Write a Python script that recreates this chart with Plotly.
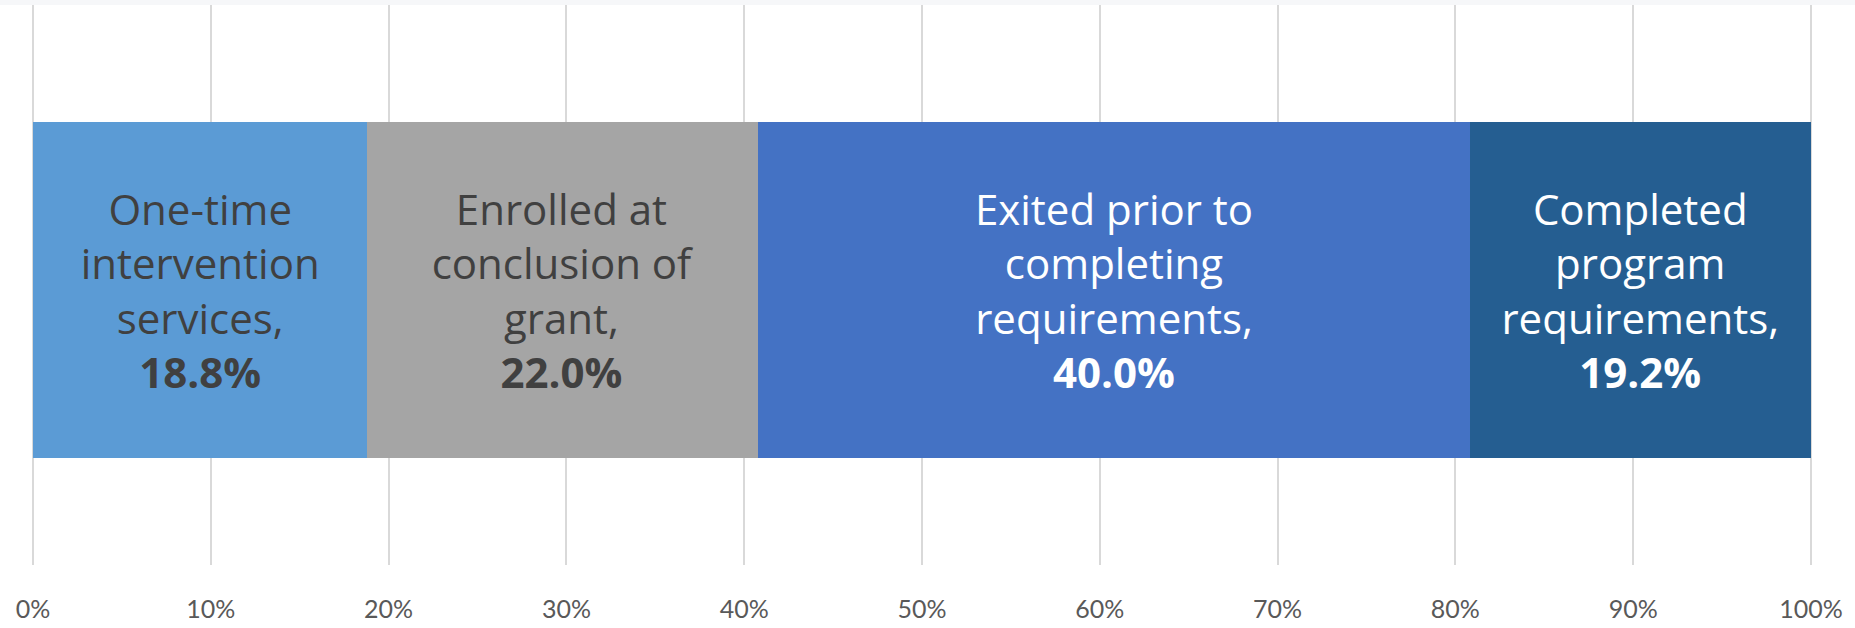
import plotly.graph_objects as go

categories = ["One-time<br>intervention<br>services,", "Enrolled at<br>conclusion of<br>grant,",
              "Exited prior to<br>completing<br>requirements,", "Completed<br>program<br>requirements,"]
values = [18.8, 22.0, 40.0, 19.2]
colors = ["#5B9BD5", "#A5A5A5", "#4472C4", "#255E91"]
text_colors = ["#404040", "#404040", "#FFFFFF", "#FFFFFF"]
tick_vals = [0, 10, 20, 30, 40, 50, 60, 70, 80, 90, 100]
tick_text = ["0%", "10%", "20%", "30%", "40%", "50%", "60%", "70%", "80%", "90%", "100%"]

fig = go.Figure()
for cat, v, c, tc in zip(categories, values, colors, text_colors):
    fig.add_trace(go.Bar(
        x=[v], y=["a"], orientation="h",
        marker=dict(color=c, line=dict(width=0)),
        text=[f"{cat}<br><b>{v:.1f}%</b>"],
        textposition="inside", insidetextanchor="middle",
        textfont=dict(family="Open Sans", size=42, color=tc),
        hoverinfo="skip", showlegend=False,
    ))

fig.update_layout(
    barmode="stack", bargap=0.40,
    width=1855, height=628,
    margin=dict(l=32, r=43, t=5, b=52),
    paper_bgcolor="white", plot_bgcolor="white",
    xaxis=dict(range=[-0.06, 100.06], tickvals=tick_vals, ticktext=tick_text,
               showgrid=True, gridcolor="#D9D9D9", gridwidth=2, zeroline=False,
               showline=False, ticklabelstandoff=27,
               tickfont=dict(family="Lato", size=25, color="#595959")),
    yaxis=dict(showticklabels=False, showgrid=False, zeroline=False,
               range=[-0.491, 0.509]),
    uniformtext=dict(minsize=42, mode="show"),
    shapes=[dict(type="rect", xref="paper", yref="paper", x0=-0.1, x1=1.1,
                 y0=1.0, y1=1.05, fillcolor="#F6F7F9", line=dict(width=0), layer="below")],
)

fig.write_html("out.html", config={"displayModeBar": False},
               post_script="document.body.style.margin='0';document.body.style.overflow='hidden';")
